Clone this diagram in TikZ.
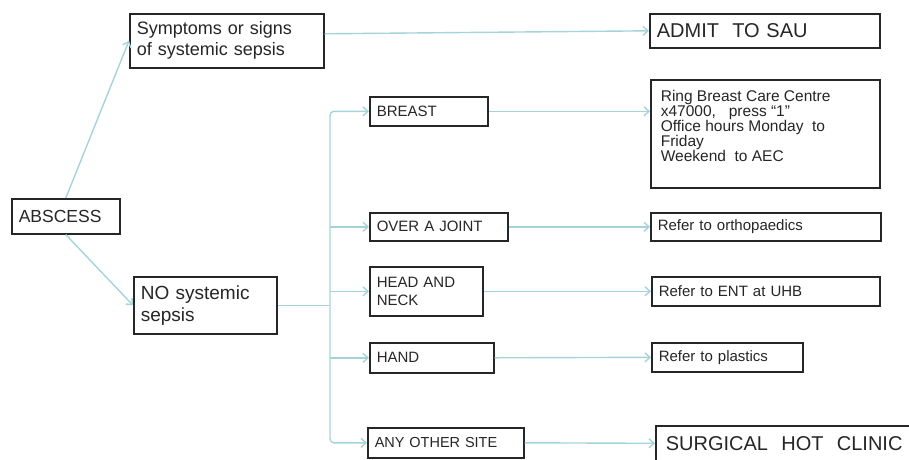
\documentclass[tikz,border=0pt]{standalone}
\usepackage{fontspec}
\setmainfont{Liberation Sans}
\usetikzlibrary{arrows.meta}
\definecolor{linkblue}{RGB}{164,212,218}

\begin{document}
\begin{tikzpicture}[x=1pt, y=-1pt, thick,
	box/.style = {draw=black!85, line width=1.6pt, fill=white, anchor=north west, inner xsep=7pt, inner ysep=0pt, align=left, text=black!85, font=\fontsize{15}{18}\selectfont},
	link/.style = {draw=linkblue, line width=1.4pt},
	arr/.style = {link, -{Straight Barb[length=5pt, width=9pt]}}]
		\clip (0,0) rectangle (909,459);
		% left column
		\node[box, text width=94pt, minimum height=35pt, font=\fontsize{17.5}{20}\selectfont] (abs) at (11,198) {ABSCESS};
		\node[box, text width=180pt, minimum height=54pt, font=\fontsize{18}{21}\selectfont] (sym) at (129,13) {Symptoms or signs\\of systemic sepsis};
		\node[box, text width=129pt, minimum height=57pt, font=\fontsize{19}{22}\selectfont] (nosep) at (133,276) {NO systemic\\sepsis};
		% sites
		\node[box, text width=104pt, minimum height=29pt] (breast) at (369,96) {BREAST};
		\node[box, text width=124pt, minimum height=28pt] (joint) at (369,212) {OVER A JOINT};
		\node[box, text width=99pt, minimum height=49pt] (head) at (369,266) {HEAD AND\\NECK};
		\node[box, text width=110pt, minimum height=30pt] (hand) at (369,342) {HAND};
		\node[box, text width=142pt, minimum height=30pt, font=\fontsize{14.5}{18}\selectfont] (other) at (367,427) {ANY OTHER SITE};
		% outcomes
		\node[box, text width=216pt, minimum height=34pt, font=\fontsize{20}{24}\selectfont] (admit) at (649,13) {ADMIT\ \ TO SAU};
		\node[box, inner xsep=10pt, inner ysep=10pt, font=\fontsize{15.5}{15}\selectfont] (ring) at (650,79) {\parbox[c][88pt][t]{209pt}{Ring Breast Care Centre\\x47000,\ \ \ press ``1''\\Office hours Monday\ \ to\\Friday\\Weekend\ \ to AEC}};
		\node[box, text width=216pt, minimum height=28pt] (ortho) at (650,212) {Refer to orthopaedics};
		\node[box, text width=214pt, minimum height=29pt] (ent) at (651,276) {Refer to ENT at UHB};
		\node[box, text width=137pt, minimum height=29pt] (plast) at (651,342) {Refer to plastics};
		\node[box, inner xsep=10pt, text width=260pt, minimum height=35pt, font=\fontsize{20}{24}\selectfont] (surg) at (655,425) {SURGICAL\ \ HOT\ \ CLINIC};
		\coordinate (trunk) at (330,0);
		\draw[arr] (abs.north) -- (sym.west);
		\draw[arr] (abs.south) -- (nosep.west);
		\draw[arr] ([yshift=7pt]sym.east) -- (admit.west);
		\draw[link] (nosep.east) -- (nosep.east -| trunk);
		\draw[arr, rounded corners=4pt] (nosep.east -| trunk) |- (breast.west);
		\draw[arr, rounded corners=4pt] (nosep.east -| trunk) |- (other.west);
		\draw[arr] (trunk |- joint.west) -- (joint.west);
		\draw[arr] (trunk |- head.west) -- (head.west);
		\draw[arr] (trunk |- hand.west) -- (hand.west);
		\draw[arr] (breast.east) -- (breast.east -| ring.west);
		\draw[arr] (joint.east) -- (ortho.west);
		\draw[arr] (head.east) -- (ent.west);
		\draw[arr] (hand.east) -- (plast.west);
		\draw[arr] (other.east) -- (surg.west);
	\end{tikzpicture}
\end{document}
